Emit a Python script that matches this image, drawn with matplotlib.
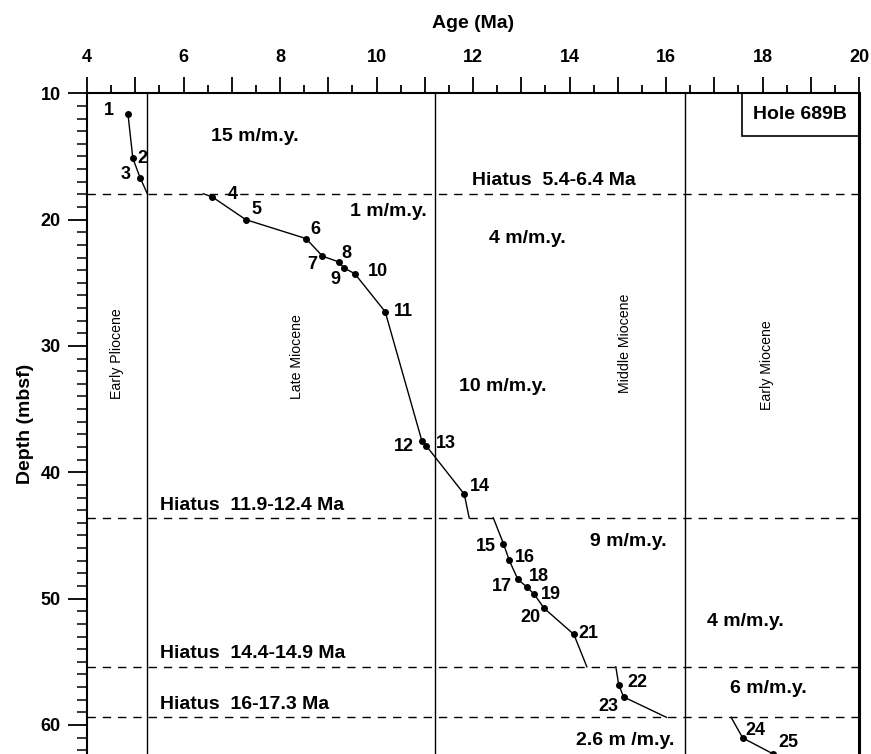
import numpy as np
import matplotlib
matplotlib.use('Agg')
import matplotlib.pyplot as plt
from matplotlib.ticker import MultipleLocator
from matplotlib.patches import Rectangle

plt.rcParams['font.family'] = ['Liberation Sans', 'DejaVu Sans']

# Age (Ma) and depth (mbsf) of numbered datums
point_ids = list(range(1, 26))
ages = [4.85, 4.95, 5.10, 6.60, 7.29, 8.54, 8.88, 9.22, 9.32, 9.55, 10.18, 10.94, 11.03,
        11.82, 12.63, 12.75, 12.93, 13.11, 13.27, 13.47, 14.09, 15.02, 15.12, 17.59, 18.21]
depths = [11.67, 15.15, 16.67, 18.21, 20.0, 21.5, 22.89, 23.35, 23.81, 24.28, 27.29, 37.51, 37.90,
          41.74, 45.64, 46.96, 48.48, 49.06, 49.66, 50.75, 52.83, 56.81, 57.78, 61.03, 62.27]

# age-depth line segments between hiatuses (datum index ranges + end points on hiatus lines)
seg_ranges = [(0, 3), (3, 14), (14, 21), (21, 23), (23, 25)]
seg_start = [None, (6.41, 17.95), (12.42, 43.6), (14.96, 55.4), (17.35, 59.4)]
seg_end = [(5.25, 17.95), (11.92, 43.6), (14.36, 55.4), (16.01, 59.4), None]

hiatus_depths = [17.95, 43.6, 55.4, 59.4]
hiatus_labels = ['Hiatus  5.4-6.4 Ma', 'Hiatus  11.9-12.4 Ma', 'Hiatus  14.4-14.9 Ma', 'Hiatus  16-17.3 Ma']
epoch_bounds = [5.24, 11.21, 16.4]
epoch_names = ['Early Pliocene', 'Late Miocene', 'Middle Miocene', 'Early Miocene']
rate_labels = ['15 m/m.y.', '1 m/m.y.', '4 m/m.y.', '10 m/m.y.', '9 m/m.y.', '4 m/m.y.', '6 m/m.y.', '2.6 m /m.y.']

# label offsets for datum numbers (pixels)
label_off = [(-19, 4), (10, 0), (-14, 3), (20, 3), (11, 10), (9, 9), (-10, -8), (8, 8), (-8, -12),
             (23, 2), (18, 0), (-18, -6), (20, 2), (16, 8), (-18, -3), (16, 3), (-16, -7), (12, 10),
             (17, 0), (-13, -9), (15, 1), (19, 2), (-15, -10), (13, 7), (16, 11)]

fig = plt.figure(figsize=(8.71, 7.54), dpi=100)
ax = fig.add_axes([87 / 871, 0, 772 / 871, 1 - 93.3 / 754])
ax.set_xlim(4, 20)
ax.set_ylim(62.3, 10)

# hiatus lines and epoch boundaries
for d in hiatus_depths:
    ax.axhline(d, color='black', lw=1, ls=(0, (6, 5)))
for a in epoch_bounds:
    ax.axvline(a, color='black', lw=1)

# age-depth segments
for (i0, i1), s, e in zip(seg_ranges, seg_start, seg_end):
    xs = list(ages[i0:i1])
    ys = list(depths[i0:i1])
    if s is not None:
        xs.insert(0, s[0]); ys.insert(0, s[1])
    if e is not None:
        xs.append(e[0]); ys.append(e[1])
    ax.plot(xs, ys, color='black', lw=1)
ax.plot(ages, depths, 'o', color='black', ms=4, ls='none')

for pid, a, d, off in zip(point_ids, ages, depths, label_off):
    ax.annotate(str(pid), (a, d), xytext=off, textcoords='offset pixels',
                ha='center', va='center', fontsize=13, fontweight='bold')

# rate labels
rate_pos = [(7.48, 13.44), (10.24, 19.36), (13.12, 21.52), (12.62, 33.17),
            (15.21, 45.44), (17.64, 51.83), (18.13, 57.08), (15.15, 61.25)]
for txt, (a, d) in zip(rate_labels, rate_pos):
    ax.text(a, d, txt, ha='center', va='center', fontsize=14, fontweight='bold')

# hiatus labels
hiatus_pos = [(11.98, 16.9), (5.51, 42.64), (5.51, 54.33), (5.51, 58.42)]
for txt, (a, d) in zip(hiatus_labels, hiatus_pos):
    ax.text(a, d, txt, ha='left', va='center', fontsize=14, fontweight='bold')

# epoch names
epoch_pos = [(4.62, 30.57), (8.35, 30.8), (15.15, 29.8), (18.09, 31.5)]
for txt, (a, d) in zip(epoch_names, epoch_pos):
    ax.text(a, d, txt, ha='center', va='center', rotation=90, fontsize=10.2)

# hole label box
ax.add_patch(Rectangle((17.58, 10), 20 - 17.58, 3.36, fill=False, ec='black', lw=1.2))
ax.text(18.78, 11.67, 'Hole 689B', ha='center', va='center', fontsize=14, fontweight='bold')

# axes styling
ax.xaxis.tick_top()
ax.xaxis.set_label_position('top')
ax.xaxis.set_minor_locator(MultipleLocator(0.5))
ax.set_xticks(np.arange(4, 21, 1))
ax.set_xticklabels([str(v) if v % 2 == 0 else '' for v in range(4, 21)])
ax.yaxis.set_major_locator(MultipleLocator(10))
ax.yaxis.set_minor_locator(MultipleLocator(1))
ax.tick_params(axis='x', which='major', direction='out', length=11.5, width=1.3, pad=8,
               labelsize=13)
ax.tick_params(axis='x', which='minor', direction='out', length=5.5, width=1.3)
ax.tick_params(axis='y', which='major', direction='out', length=14, width=1.3, pad=5,
               labelsize=13)
ax.tick_params(axis='y', which='minor', direction='out', length=7, width=1.1)
for lab in ax.get_xticklabels() + ax.get_yticklabels():
    lab.set_fontweight('bold')
ax.spines['bottom'].set_visible(False)
ax.spines['top'].set_linewidth(1.5)
ax.spines['left'].set_linewidth(1.5)
ax.spines['right'].set_linewidth(2.2)

ax.set_xlabel('Age (Ma)', fontsize=14, fontweight='bold', labelpad=15)
ax.set_ylabel('Depth (mbsf)', fontsize=14, fontweight='bold', labelpad=5)

fig.savefig('out.png', dpi=100)
